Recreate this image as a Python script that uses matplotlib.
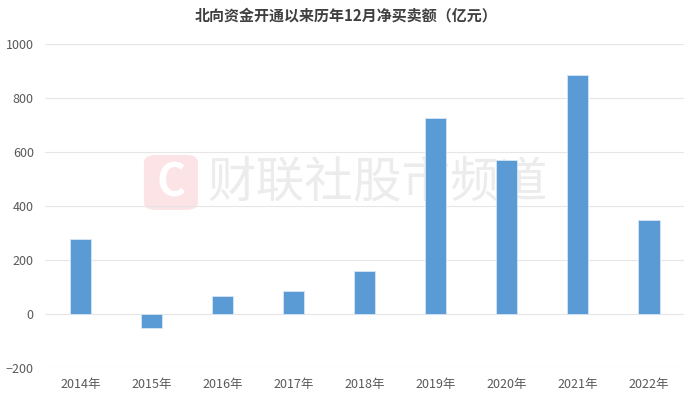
import matplotlib.pyplot as plt
from matplotlib.patches import FancyBboxPatch

plt.rcParams['font.family'] = ['Noto Sans CJK SC', 'DejaVu Sans']

# data
years = ['2014年', '2015年', '2016年', '2017年', '2018年', '2019年', '2020年', '2021年', '2022年']
net_buy = [278, -53, 66, 85, 159, 727, 571, 887, 350]
y_ticks = [-200, 0, 200, 400, 600, 800, 1000]

fig = plt.figure(figsize=(6.92, 3.99), dpi=100)
ax = fig.add_axes([0.065, 0.0777, 0.924, 0.812])
ax.set_zorder(5)
ax.set_facecolor('none')

# watermark (behind the axes)
wm = FancyBboxPatch((0.208, 0.4737), 0.078, 0.138, boxstyle='round,pad=0,rounding_size=0.018',
                    transform=fig.transFigure, facecolor='#fbe3e6', edgecolor='none', zorder=0)
fig.patches.append(wm)
fig.text(0.247, 0.541, 'C', color='white', fontsize=32, fontweight='bold',
         ha='center', va='center', zorder=1)
fig.text(0.3, 0.541, '财联社股市频道', color='#ececec', fontsize=35,
         ha='left', va='center', zorder=1)

ax.bar(range(len(years)), net_buy, width=0.3, color='#5b9bd5', edgecolor='#d6e6f5',
       linewidth=0.6, zorder=3)

ax.set_ylim(-200, 1000)
ax.set_xlim(-0.5, len(years) - 0.5)
ax.set_yticks(y_ticks)
ax.set_xticks(range(len(years)))
ax.set_xticklabels(years)
ax.grid(axis='y', color='#e6e6e6', linewidth=0.8, zorder=0)
ax.tick_params(length=0, labelsize=9, labelcolor='#595959')
ax.tick_params(axis='x', pad=7)
ax.tick_params(axis='y', pad=8)
for s in ax.spines.values():
    s.set_visible(False)

fig.text(0.5, 0.962, '北向资金开通以来历年12月净买卖额（亿元）', ha='center', va='center',
         fontsize=10.8, fontweight='bold', color='#404040')

fig.savefig('out.png', dpi=100)
